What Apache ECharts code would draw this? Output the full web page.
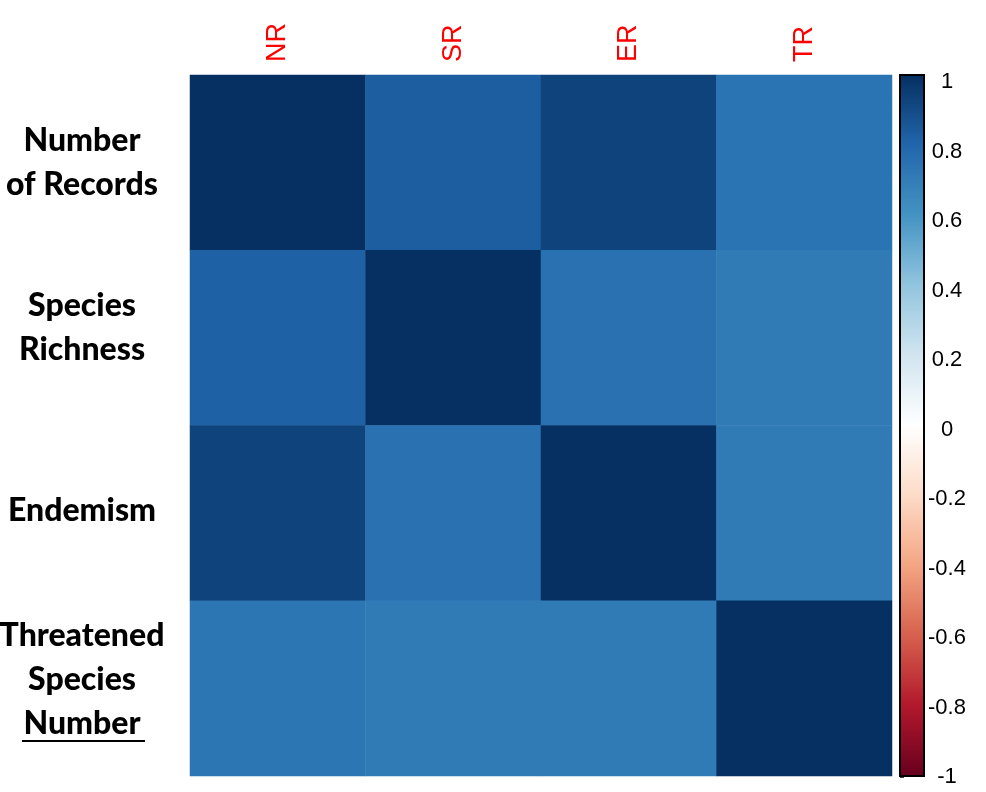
<!DOCTYPE html>
<html>
<head>
<meta charset="utf-8">
<script src="https://cdn.jsdelivr.net/npm/echarts@6/dist/echarts.min.js"></script>
<style>html,body{margin:0;padding:0;background:#fff;}#chart{width:986px;height:792px;}</style>
</head>
<body>
<div id="chart"></div>
<script>
// Columns (top, red) and rows (left, bold)
const colLabels = ['NR', 'SR', 'ER', 'TR'];
const rowLabels = ['Number\nof Records', 'Species\nRichness', 'Endemism', 'Threatened\nSpecies\nNumber'];
// Correlation values, one array per row
const rowNR = [1.00, 0.83, 0.93, 0.74];
const rowSR = [0.82, 1.00, 0.75, 0.71];
const rowER = [0.93, 0.75, 1.00, 0.71];
const rowTR = [0.73, 0.71, 0.71, 1.00];
const matrix = [rowNR, rowSR, rowER, rowTR];
// Colour bar
const barTicks = [-1, -0.8, -0.6, -0.4, -0.2, 0, 0.2, 0.4, 0.6, 0.8, 1];
const rdbu = ['#67001F','#B2182B','#D6604D','#F4A582','#FDDBC7','#FFFFFF','#D1E5F0','#92C5DE','#4393C3','#2166AC','#053061'];

const data = [];
matrix.forEach((row, r) => row.forEach((v, c) => data.push([c, r, v])));
const gapStyle = ['', 'g20', 'g4', 'g18'];

const chart = echarts.init(document.getElementById('chart'), null, {renderer: 'canvas'});
chart.setOption({
  animation: false,
  backgroundColor: '#ffffff',
  grid: [
    {left: 190, top: 75, width: 702, height: 701, containLabel: false, outerBoundsMode: 'none'},
    {left: 900, top: 75, width: 24, height: 701, show: true, borderColor: '#000', borderWidth: 2, backgroundColor: 'transparent', z: 10, outerBoundsMode: 'none'},
    {left: 900, top: 82, width: 24, height: 695, outerBoundsMode: 'none'}
  ],
  xAxis: [
    {type: 'category', data: colLabels, position: 'top', gridIndex: 0,
     axisLine: {show: false}, axisTick: {show: false}, splitLine: {show: false},
     axisLabel: {rotate: -90, color: '#FF0000', fontFamily: 'Liberation Sans, Arial', fontSize: 27, margin: 13}},
    {type: 'value', gridIndex: 1, show: false},
    {type: 'value', gridIndex: 2, show: false}
  ],
  yAxis: [
    {type: 'category', data: rowLabels, inverse: true, gridIndex: 0,
     axisLine: {show: false}, axisTick: {show: false}, splitLine: {show: false},
     axisLabel: {color: '#000', fontFamily: 'Lato', fontWeight: 900, fontSize: 32, lineHeight: 44, align: 'center', margin: 108,
       formatter: (v, i) => gapStyle[i] ? v + '\n{' + gapStyle[i] + '| }' : v,
       rich: {g20: {lineHeight: 20, fontSize: 4}, g4: {lineHeight: 4, fontSize: 2}, g18: {lineHeight: 18, fontSize: 4}}}},
    {type: 'value', gridIndex: 1, show: false},
    {type: 'value', gridIndex: 2, min: -1, max: 1, interval: 0.2, position: 'right',
     axisLine: {show: false}, splitLine: {show: false},
     axisTick: {show: true, length: 4, lineStyle: {color: '#000', width: 1.5}},
     axisLabel: {color: '#000', fontFamily: 'Liberation Sans, Arial', fontSize: 22, margin: 23, align: 'center',
       formatter: v => { const r = Math.round(v * 10) / 10; return barTicks.includes(r) ? String(r) : ''; }}}
  ],
  visualMap: {
    type: 'continuous', min: -1, max: 1, calculable: false, orient: 'vertical',
    left: 900, top: 75, itemWidth: 24, itemHeight: 701, padding: 0,
    inRange: {color: rdbu}, seriesIndex: 0, hoverLink: false
  },
  graphic: [
    {type: 'line', shape: {x1: 22, y1: 741, x2: 145, y2: 741}, style: {stroke: '#000', lineWidth: 2}}
  ],
  series: [{
    type: 'heatmap', xAxisIndex: 0, yAxisIndex: 0, data: data,
    itemStyle: {borderWidth: 0}, emphasis: {disabled: true}
  }]
});
</script>
</body>
</html>
